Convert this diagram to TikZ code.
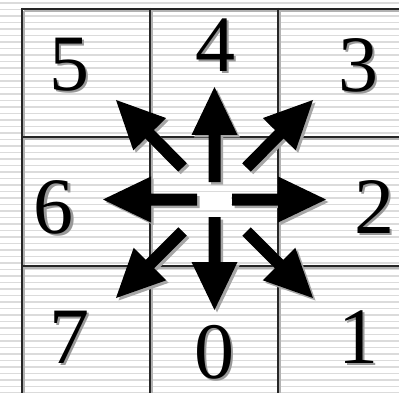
\documentclass[tikz,border=0pt]{standalone}
\usepackage{fontspec}
\setmainfont{Liberation Serif}
\newcommand\myarrow[5]{%
 \pgfmathsetmacro\adx{#3-#1}\pgfmathsetmacro\ady{#4-#2}%
 \pgfmathsetmacro\alen{veclen(\adx,\ady)}%
 \pgfmathsetmacro\aux{\adx/\alen}\pgfmathsetmacro\auy{\ady/\alen}%
 \pgfmathsetmacro\anx{-\auy}\pgfmathsetmacro\any{\aux}%
 \pgfmathsetmacro\acx{#3-48*\aux}\pgfmathsetmacro\acy{#4-48*\auy}%
 \fill[#5] ({#1+6*\anx},{#2+6*\any}) -- ({\acx+6*\anx},{\acy+6*\any}) -- ({\acx+23*\anx},{\acy+23*\any})
   -- (#3,#4) -- ({\acx-23*\anx},{\acy-23*\any}) -- ({\acx-6*\anx},{\acy-6*\any}) -- ({#1-6*\anx},{#2-6*\any}) -- cycle;%
}
\newcommand\arrowset[1]{%
 \begin{scope}[shift={(#1)}]
 \myarrow{214.5}{182}{214.5}{87}{\arrcol}
 \myarrow{214.5}{217}{214.5}{310}{\arrcol}
 \myarrow{197}{199.5}{103}{199.5}{\arrcol}
 \myarrow{232}{199.5}{326}{199.5}{\arrcol}
 \myarrow{182.5}{167.5}{116}{100}{\arrcol}
 \myarrow{246.5}{167.5}{313}{100}{\arrcol}
 \myarrow{182.5}{231.5}{116}{298}{\arrcol}
 \myarrow{246.5}{231.5}{313}{298}{\arrcol}
 \end{scope}}
\begin{document}
\begin{tikzpicture}[x=1pt,y=-1pt,
  digit/.style={font=\fontsize{80}{80}\selectfont, inner sep=0pt, anchor=base},
  digitshadow/.style={digit, text=black!40},
  gridline/.style={line width=2.2pt, draw=black!85},
  gridshadow/.style={line width=2.2pt, draw=black!30},
  stripe/.style={draw=black!14, line width=1.3pt}]
\useasboundingbox (0,0) rectangle (399,393);
\fill[white] (0,0) rectangle (399,393);
% stripes
\foreach \k in {0,...,60} {
  \draw[stripe] (0,{3+6.5*\k}) -- (399,{3+6.5*\k});
}
% grid shadows
\foreach \gx in {22,150,278} { \draw[gridshadow] (\gx+2.2,11) -- (\gx+2.2,395); }
\foreach \gy in {9,137,266} { \draw[gridshadow] (24,\gy+2.2) -- (401,\gy+2.2); }
% grid
\foreach \gx in {22,150,278} { \draw[gridline] (\gx,8) -- (\gx,395); }
\foreach \gy in {9,137,266} { \draw[gridline] (21,\gy) -- (401,\gy); }
% center white square
\coordinate (c) at (214.5,199.5);
\fill[white] (198,192) rectangle (231,207);
% arrows: shadow then black
\def\arrcol{black!35}
\arrowset{2.5,2.5}
\def\arrcol{black}
\arrowset{0,0}
% digits
\foreach \n/\px/\py in {5/69/91, 4/215/72, 3/358/92, 6/54/233, 2/374/233, 7/69/363, 0/214/378, 1/358/363} {
  \node[digitshadow] at (\px+2,\py+2) {\n};
  \node[digit] (d\n) at (\px,\py) {\n};
}
\end{tikzpicture}
\end{document}
